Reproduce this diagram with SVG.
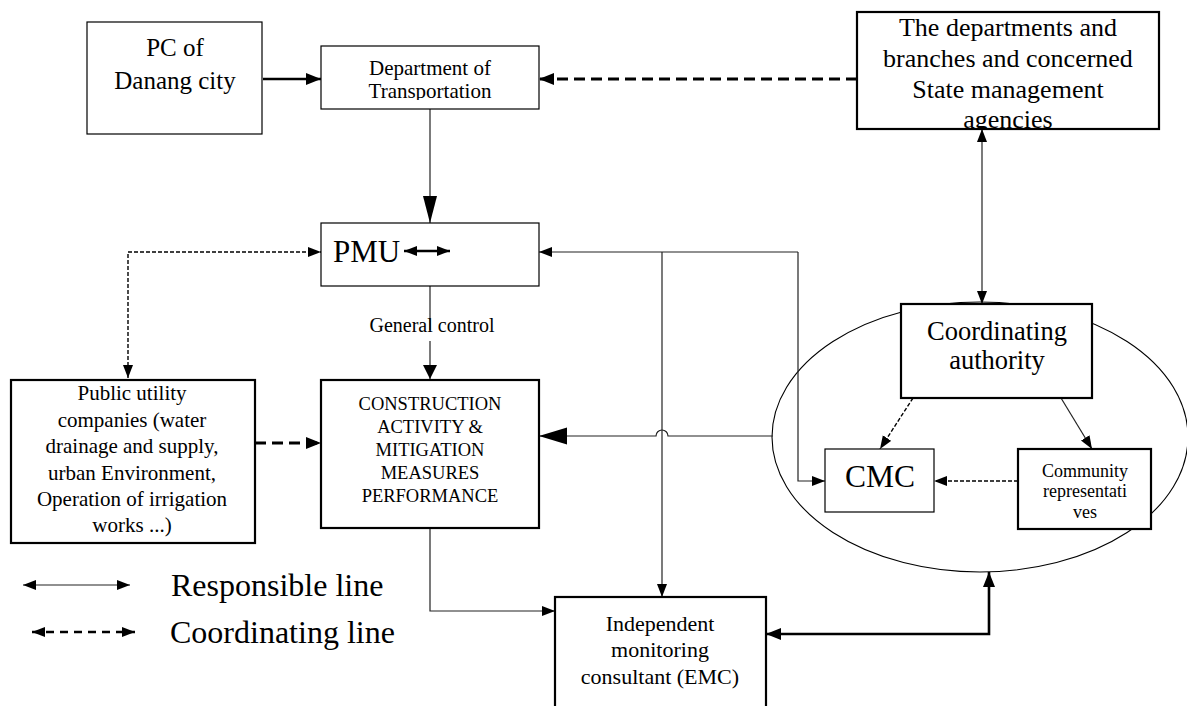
<svg xmlns="http://www.w3.org/2000/svg" width="1187" height="706" viewBox="0 0 1187 706" font-family="'Liberation Serif', 'Times New Roman', 'DejaVu Serif', serif">
<style>
text{font-family:'Liberation Serif','Times New Roman','DejaVu Serif',serif}
.box{fill:#fff;stroke:#000;stroke-width:1.2}
.tbox{fill:#fff;stroke:#000;stroke-width:2.2}
.t{fill:#000;text-anchor:middle}
.ts{fill:#000;text-anchor:start}
.ln{fill:none;stroke:#222;stroke-width:1.2}
.thick{fill:none;stroke:#000;stroke-width:2.6}
.dthick{fill:none;stroke:#000;stroke-width:3;stroke-dasharray:11 6}
.dthin{fill:none;stroke:#000;stroke-width:1.4;stroke-dasharray:4 2}
</style>
<defs>
<marker id="mS" markerUnits="userSpaceOnUse" markerWidth="14" markerHeight="12" refX="13" refY="5" orient="auto-start-reverse"><path d="M0,0 L13,5 L0,10 z" fill="#000"/></marker>
<marker id="mM" markerUnits="userSpaceOnUse" markerWidth="16" markerHeight="14" refX="15" refY="6" orient="auto-start-reverse"><path d="M0,0 L15,6 L0,12 z" fill="#000"/></marker>
<marker id="mT" markerUnits="userSpaceOnUse" markerWidth="30" markerHeight="16" refX="27" refY="7" orient="auto-start-reverse"><path d="M0,0 L27,7 L0,14 z" fill="#000"/></marker>
<marker id="mB" markerUnits="userSpaceOnUse" markerWidth="30" markerHeight="20" refX="28" refY="8.5" orient="auto-start-reverse"><path d="M0,0 L28,8.5 L0,17 z" fill="#000"/></marker>
<marker id="mG" markerUnits="userSpaceOnUse" markerWidth="16" markerHeight="16" refX="14" refY="7" orient="auto-start-reverse"><path d="M0,0 L14,7 L0,14 z" fill="#000"/></marker>
<clipPath id="cDept"><rect x="321" y="46" width="218" height="54"/></clipPath>
<clipPath id="cDeps"><rect x="857" y="12" width="302" height="117"/></clipPath>
<clipPath id="cCom"><rect x="1018" y="449" width="133" height="70"/></clipPath>
</defs>

<g id="ellipse-group">
<ellipse cx="980" cy="437" rx="208" ry="135" fill="none" stroke="#000" stroke-width="1.1"/>
</g>

<g id="connectors">
<line class="thick" x1="263" y1="79" x2="321" y2="79" marker-end="url(#mM)"/>
<line class="dthick" x1="857" y1="79" x2="539" y2="79" marker-end="url(#mM)"/>
<line class="ln" x1="430" y1="109" x2="430" y2="223" marker-end="url(#mT)"/>
<line class="ln" x1="430" y1="286" x2="430" y2="330"/>
<line class="ln" x1="430" y1="341" x2="430" y2="379" marker-end="url(#mG)"/>
<path class="dthin" d="M128,378 V252 H321" marker-start="url(#mS)" marker-end="url(#mS)"/>
<line class="dthick" x1="255" y1="443" x2="321" y2="443" marker-end="url(#mM)"/>
<line class="ln" x1="798" y1="252" x2="539" y2="252" marker-end="url(#mS)"/>
<line class="ln" x1="662" y1="252" x2="662" y2="597" marker-end="url(#mS)"/>
<path class="ln" d="M798,252 V481 H825" marker-end="url(#mS)"/>
<path class="ln" d="M773,436 H668 A6,6 0 0 0 656,436 H539" marker-end="url(#mB)"/>
<path class="ln" d="M430,528 V611 H555" marker-end="url(#mS)"/>
<path class="thick" d="M766,634 H989 V572" marker-start="url(#mM)" marker-end="url(#mM)"/>
<line class="ln" x1="982" y1="129" x2="982" y2="304" marker-start="url(#mS)" marker-end="url(#mS)"/>
<line class="dthin" x1="913" y1="398" x2="880" y2="449" marker-end="url(#mS)"/>
<line class="ln" x1="1061" y1="398" x2="1092" y2="449" marker-end="url(#mS)"/>
<line class="dthin" x1="1018" y1="481" x2="934" y2="481" marker-end="url(#mS)"/>
</g>

<g id="pc">
<rect class="box" x="87" y="22" width="175" height="112"/>
<text class="t" x="175" y="56" font-size="25">PC of</text>
<text class="t" x="175" y="89" font-size="25">Danang city</text>
</g>

<g id="dept-transport">
<rect class="box" x="321" y="46" width="218" height="63"/>
<g clip-path="url(#cDept)">
<text class="t" x="430" y="75" font-size="21">Department of</text>
<text class="t" x="430" y="98" font-size="21">Transportation</text>
</g>
</g>

<g id="departments">
<rect class="tbox" x="857" y="12" width="302" height="117"/>
<g clip-path="url(#cDeps)">
<text class="t" x="1008" y="36" font-size="26">The departments and</text>
<text class="t" x="1008" y="67" font-size="26">branches and concerned</text>
<text class="t" x="1008" y="98" font-size="26">State management</text>
<text class="t" x="1008" y="128" font-size="26">agencies</text>
</g>
</g>

<g id="pmu">
<rect class="box" x="321" y="223" width="218" height="63"/>
<text class="ts" x="333" y="262" font-size="31">PMU</text>
<line x1="404" y1="251" x2="450" y2="251" stroke="#000" stroke-width="2.5" marker-start="url(#mS)" marker-end="url(#mS)"/>
</g>

<g id="general-control-label">
<text class="t" x="432" y="332" font-size="20">General control</text>
</g>

<g id="public-utility">
<rect class="tbox" x="11" y="380" width="244" height="163"/>
<text class="t" x="132" y="400" font-size="21">Public utility</text>
<text class="t" x="132" y="427" font-size="21">companies (water</text>
<text class="t" x="132" y="453" font-size="21">drainage and supply,</text>
<text class="t" x="132" y="480" font-size="21">urban Environment,</text>
<text class="t" x="132" y="506" font-size="21">Operation of irrigation</text>
<text class="t" x="132" y="532" font-size="21">works ...)</text>
</g>

<g id="construction">
<rect class="tbox" x="321" y="380" width="218" height="148"/>
<text class="t" x="430" y="410" font-size="18.5">CONSTRUCTION</text>
<text class="t" x="430" y="433" font-size="18.5">ACTIVITY &amp;</text>
<text class="t" x="430" y="456" font-size="18.5">MITIGATION</text>
<text class="t" x="430" y="479" font-size="18.5">MEASURES</text>
<text class="t" x="430" y="502" font-size="18.5">PERFORMANCE</text>
</g>

<g id="coordinating-authority">
<rect class="tbox" x="901" y="304" width="191" height="94"/>
<text class="t" x="997" y="340" font-size="26.5">Coordinating</text>
<text class="t" x="997" y="369" font-size="26.5">authority</text>
</g>

<g id="cmc">
<rect class="box" x="825" y="449" width="109" height="63"/>
<text class="t" x="880" y="487" font-size="31.5">CMC</text>
</g>

<g id="community">
<rect class="tbox" x="1018" y="449" width="133" height="80"/>
<g clip-path="url(#cCom)">
<text class="t" x="1085" y="477" font-size="18">Community</text>
<text class="t" x="1085" y="497" font-size="18">representati</text>
<text class="t" x="1085" y="518" font-size="18">ves</text>
</g>
</g>

<g id="emc">
<rect class="tbox" x="555" y="597" width="211" height="115"/>
<text class="t" x="660" y="631" font-size="22">Independent</text>
<text class="t" x="660" y="657" font-size="22">monitoring</text>
<text class="t" x="660" y="684" font-size="22">consultant (EMC)</text>
</g>

<g id="legend">
<line class="ln" x1="23" y1="585" x2="130" y2="585" marker-start="url(#mS)" marker-end="url(#mS)"/>
<text class="ts" x="171" y="596" font-size="32">Responsible line</text>
<line x1="32" y1="632" x2="135" y2="632" stroke="#000" stroke-width="2.6" stroke-dasharray="8 6" marker-start="url(#mS)" marker-end="url(#mS)"/>
<text class="ts" x="170" y="643" font-size="32">Coordinating line</text>
</g>
</svg>
